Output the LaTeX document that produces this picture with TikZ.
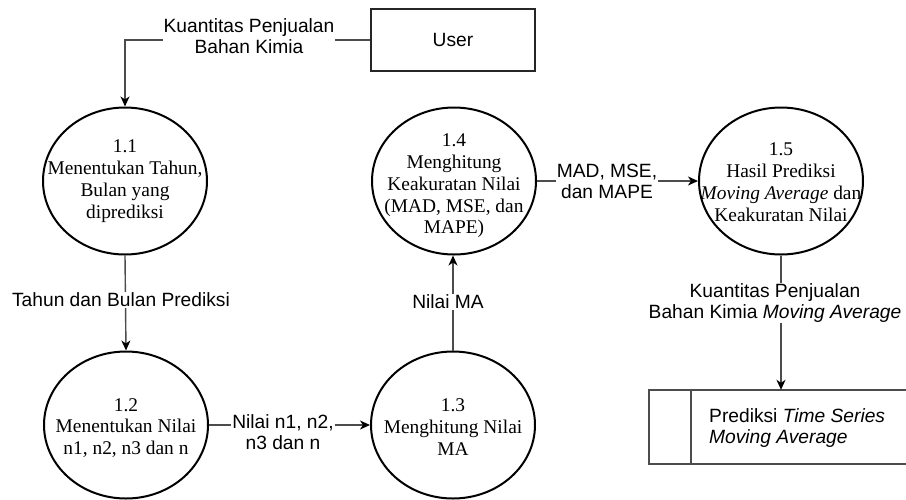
\documentclass[tikz,border=0pt]{standalone}
\usepackage{fontspec}
\setmainfont{Liberation Sans}
\newfontfamily\procfont{Liberation Serif}
\usetikzlibrary{shapes.geometric,arrows.meta}

\tikzset{
  proc/.style={ellipse, draw=black, line width=2pt, minimum width=164pt,
    minimum height=147pt, inner sep=0pt},
  proctext/.style={align=center, inner sep=0pt,
    font=\procfont\fontsize{19.4}{21.8}\selectfont},
  entity/.style={rectangle, draw=black!85, line width=1.4pt,
    minimum width=164pt, minimum height=62pt, inner sep=0pt,
    font=\fontsize{19.2}{21}\selectfont},
  flow/.style={draw=black!70, line width=1.4pt,
    -{Stealth[length=10pt,width=9pt,inset=3pt,black]}},
  flowlabel/.style={fill=white, align=center, inner sep=1pt,
    font=\fontsize{19.2}{21}\selectfont},
  storeline/.style={draw=black!70, line width=1.4pt},
}

\begin{document}
\begin{tikzpicture}[x=1pt, y=-1pt]
  \useasboundingbox (0,0) rectangle (906,499);
  \fill[white] (0,0) rectangle (906,499);

  % external entity
  \node[entity] (user) at (453,40) {User};

  % processes
  \node[proc] (p11) at (125,181) {};
  \node[proctext] at (p11) {1.1\\Menentukan Tahun,\\Bulan yang\\diprediksi};

  \node[proc] (p12) at (126,425) {};
  \node[proctext] at (126,428) {1.2\\Menentukan Nilai\\n1, n2, n3 dan n};

  \node[proc] (p13) at (453,425) {};
  \node[proctext] at (453,427) {1.3\\Menghitung Nilai\\MA};

  \node[proc] (p14) at (454,181) {};
  \node[proctext] at (454,186) {1.4\\Menghitung\\Keakuratan Nilai\\(MAD, MSE, dan\\MAPE)};

  \node[proc] (p15) at (781,181) {};
  \node[proctext] at (781,182) {1.5\\Hasil Prediksi\\\textit{Moving Average} dan\\Keakuratan Nilai};

  % data store, open on its right side
  \node[minimum width=257pt, minimum height=74pt, inner sep=0pt] (store) at (777.5,427) {};
  \draw[storeline] (906,390) -- (649,390) -- (649,464) -- (906,464);
  \draw[storeline] (691,390) -- (691,464);
  \node[anchor=west, align=left, inner sep=0pt,
        font=\fontsize{19.2}{21}\selectfont] (storetext) at (709,428)
        {Prediksi \textit{Time Series}\\\textit{Moving Average}};

  % data flows
  \draw[flow] (user.west) -| (p11.north);
  \node[flowlabel] (l1) at (249,36) {Kuantitas Penjualan\\Bahan Kimia};

  \draw[flow] (p11.south) -- (p12.north);
  \node[flowlabel] (l2) at (121,300) {Tahun dan Bulan Prediksi};

  \draw[flow] (p12.east) -- (p13.west);
  \node[flowlabel] (l3) at (283,432) {Nilai n1, n2,\\n3 dan n};

  \draw[flow] (p13.north) -- (p14.south -| p13.north);
  \node[flowlabel] (l4) at (448,302) {Nilai MA};

  \draw[flow] (p14.east) -- (p15.west);
  \node[flowlabel] (l5) at (607,181) {MAD, MSE,\\dan MAPE};

  \draw[flow] (p15.south) -- (p15.south |- store.north);
  \node[flowlabel] (l6) at (775,303) {Kuantitas Penjualan\\Bahan Kimia \textit{Moving Average}};
\end{tikzpicture}
\end{document}
